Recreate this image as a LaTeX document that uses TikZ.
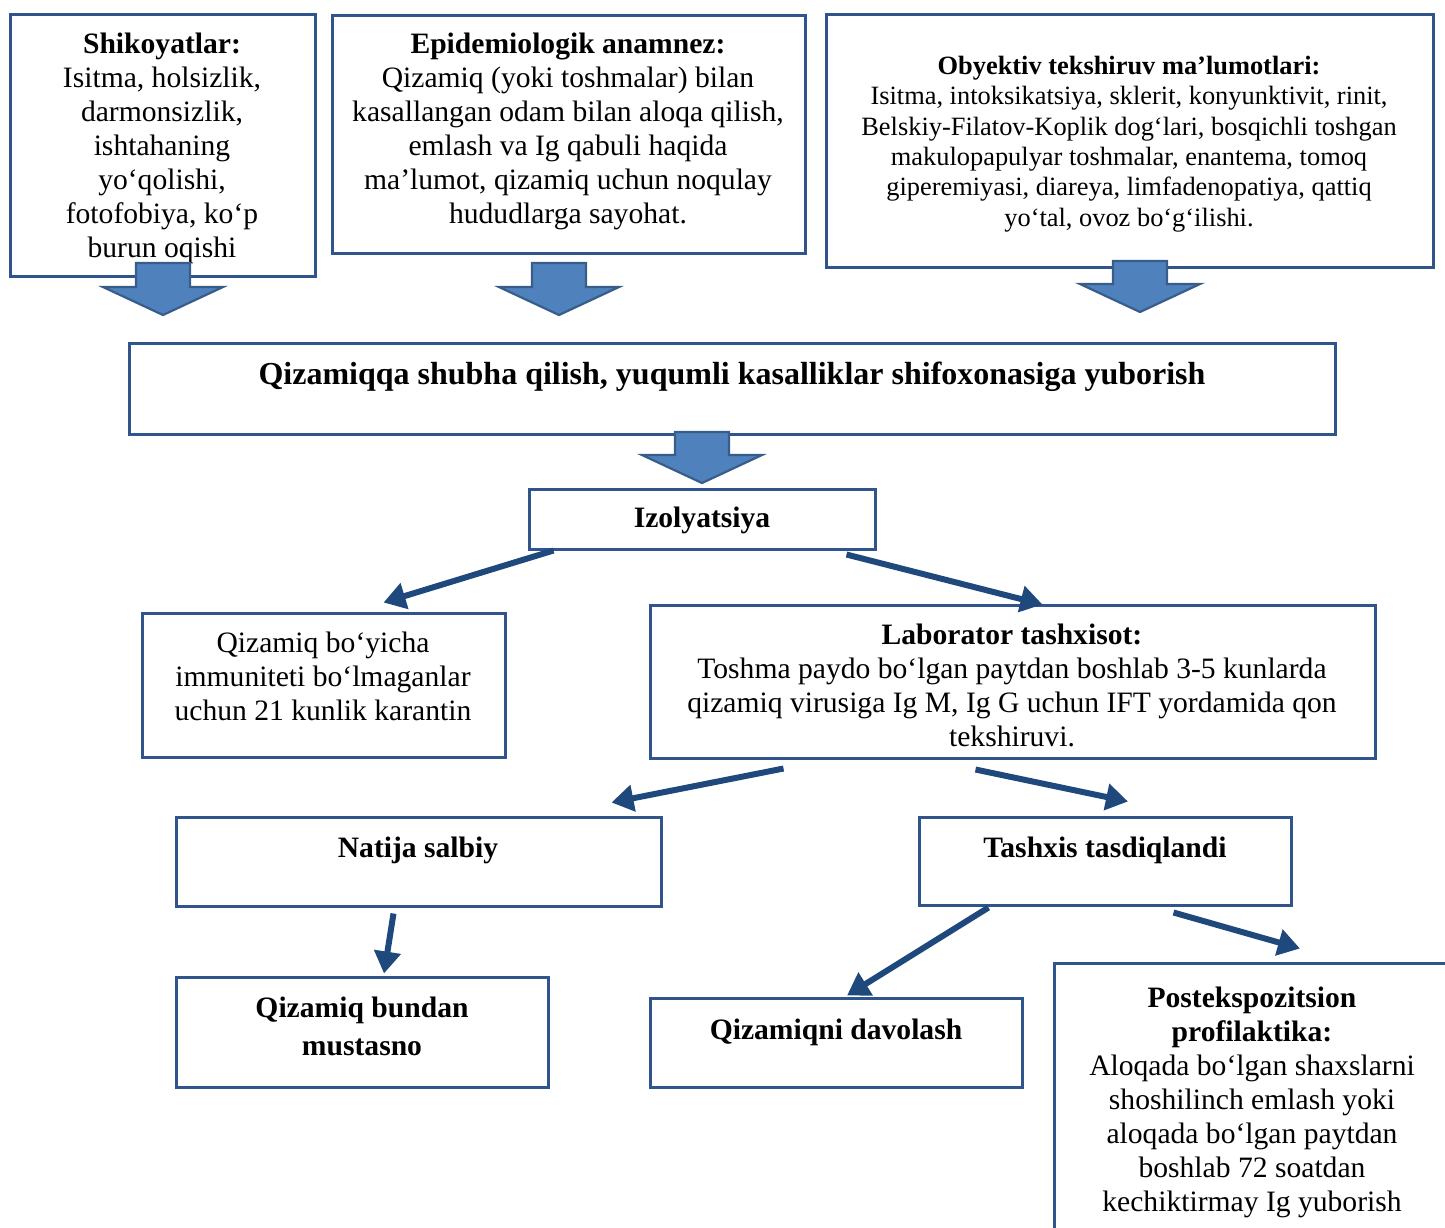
\documentclass[tikz,border=0pt]{standalone}
\usepackage{fontspec}
\setmainfont{Liberation Serif}
\usetikzlibrary{arrows.meta,fit,calc}
\definecolor{boxc}{RGB}{47,85,140}
\definecolor{arrc}{RGB}{31,73,125}
\definecolor{bafill}{RGB}{79,129,189}
\definecolor{baline}{RGB}{56,93,138}
\newcommand\blockarr[4]{%
  \draw[barrow] (#1-27,#2) -- (#1+27,#2) -- (#1+27,#3) -- (#1+60,#3) -- (#1,#4) -- (#1-60,#3) -- (#1-27,#3) -- cycle;}
\begin{document}
\begin{tikzpicture}[x=0.5pt,y=-0.5pt,
  box/.style={draw=boxc,line width=1.5pt,inner sep=0pt},
  txt/.style={align=center,inner sep=0pt,anchor=north,font=\fontsize{14.8}{17}\selectfont},
  bigtxt/.style={align=center,inner sep=0pt,anchor=north,font=\fontsize{16}{18}\selectfont},
  smalltxt/.style={align=center,inner sep=0pt,anchor=north,font=\fontsize{13.2}{15.2}\selectfont},
  widetxt/.style={align=center,inner sep=0pt,anchor=north,font=\fontsize{14.8}{19}\selectfont},
  conn/.style={draw=arrc,line width=3pt,-{Triangle[length=11pt,width=13pt]}},
  barrow/.style={fill=bafill,draw=baline,line width=1.1pt,line join=miter}]
\useasboundingbox (0,0) rectangle (1445,1227);
\clip (0,0) rectangle (1445,1227);

% boxes
\node[box,fit={(10,14) (315,276)}] (b1) {};
\node[box,fit={(332,15) (805,253)}] (b2) {};
\node[box,fit={(826,14) (1433,267)}] (b3) {};
\node[box,fit={(129,343) (1335,434)}] (cen) {};
\node[box,fit={(529,489) (875,549)}] (iz) {};
\node[box,fit={(142,613) (505,757)}] (q21) {};
\node[box,fit={(650,605) (1375,758)}] (lab) {};
\node[box,fit={(176,817) (661,906)}] (nat) {};
\node[box,fit={(919,817) (1291,905)}] (tas) {};
\node[box,fit={(176,977) (548,1087)}] (mus) {};
\node[box,fit={(650,998) (1022,1087)}] (dav) {};
\node[box,fit={(1054,963) (1470,1260)}] (post) {};

% texts
\node[txt] (b1t) at (162,29.2) {\strut\textbf{Shikoyatlar:}\\ Isitma, holsizlik,\\ darmonsizlik,\\ ishtahaning\\ yo‘qolishi,\\ fotofobiya, ko‘p\\ burun oqishi};
\node[txt] (b2t) at (568,29.2) {\strut\textbf{Epidemiologik anamnez:}\\ Qizamiq (yoki toshmalar) bilan\\ kasallangan odam bilan aloqa qilish,\\ emlash va Ig qabuli haqida\\ ma’lumot, qizamiq uchun noqulay\\ hududlarga sayohat.};
\node[smalltxt] (b3t) at (1129,52.7) {\strut\textbf{Obyektiv tekshiruv ma’lumotlari:}\\ Isitma, intoksikatsiya, sklerit, konyunktivit, rinit,\\ Belskiy-Filatov-Koplik dog‘lari, bosqichli toshgan\\ makulopapulyar toshmalar, enantema, tomoq\\ giperemiyasi, diareya, limfadenopatiya, qattiq\\ yo‘tal, ovoz bo‘g‘ilishi.};
\node[bigtxt] (cent) at (732,359) {\strut\textbf{Qizamiqqa shubha qilish, yuqumli kasalliklar shifoxonasiga yuborish}};
\node[txt] (izt) at (702,503.2) {\strut\textbf{Izolyatsiya}};
\node[txt] (q21t) at (323,628.2) {\strut Qizamiq bo‘yicha\\ immuniteti bo‘lmaganlar\\ uchun 21 kunlik karantin};
\node[txt] (labt) at (1012,620.2) {\strut\textbf{Laborator tashxisot:}\\ Toshma paydo bo‘lgan paytdan boshlab 3-5 kunlarda\\ qizamiq virusiga Ig M, Ig G uchun IFT yordamida qon\\ tekshiruvi.};
\node[txt] (natt) at (418,833.2) {\strut\textbf{Natija salbiy}};
\node[txt] (tast) at (1105,833.2) {\strut\textbf{Tashxis tasdiqlandi}};
\node[widetxt] (must) at (362,990.4) {\strut\textbf{Qizamiq bundan}\\ \textbf{mustasno}};
\node[txt] (davt) at (836,1015.2) {\strut\textbf{Qizamiqni davolash}};
\node[txt] (postt) at (1252,983.2) {\strut\textbf{Postekspozitsion}\\ \textbf{profilaktika:}\\ Aloqada bo‘lgan shaxslarni\\ shoshilinch emlash yoki\\ aloqada bo‘lgan paytdan\\ boshlab 72 soatdan\\ kechiktirmay Ig yuborish};

% block arrows
\blockarr{163}{263}{287}{315}
\blockarr{559}{263}{287}{315}
\blockarr{1140}{261}{284}{312}
\blockarr{702}{432}{455}{483}

% connectors
\draw[conn] ($(iz.south west)+(26,0)$) -- ($(q21.north)+(60,-9)$);
\draw[conn] ($(iz.south east)+(-30,4)$) -- ($(lab.north)+(30,1)$);
\draw[conn] ($(lab.south west)+(135,9)$) -- ($(nat.north)+(193,-13)$);
\draw[conn] ($(lab.south west)+(327,10)$) -- ($(tas.north)+(23,-14)$);
\draw[conn] ($(nat.south)+(-25,6)$) -- ($(mus.north)+(22,-2)$);
\draw[conn] ($(tas.south west)+(71,1)$) -- ($(dav.north)+(11,-1)$);
\draw[conn] ($(tas.south west)+(256,6)$) -- ($(post.north)+(38,-13)$);
\end{tikzpicture}
\end{document}
